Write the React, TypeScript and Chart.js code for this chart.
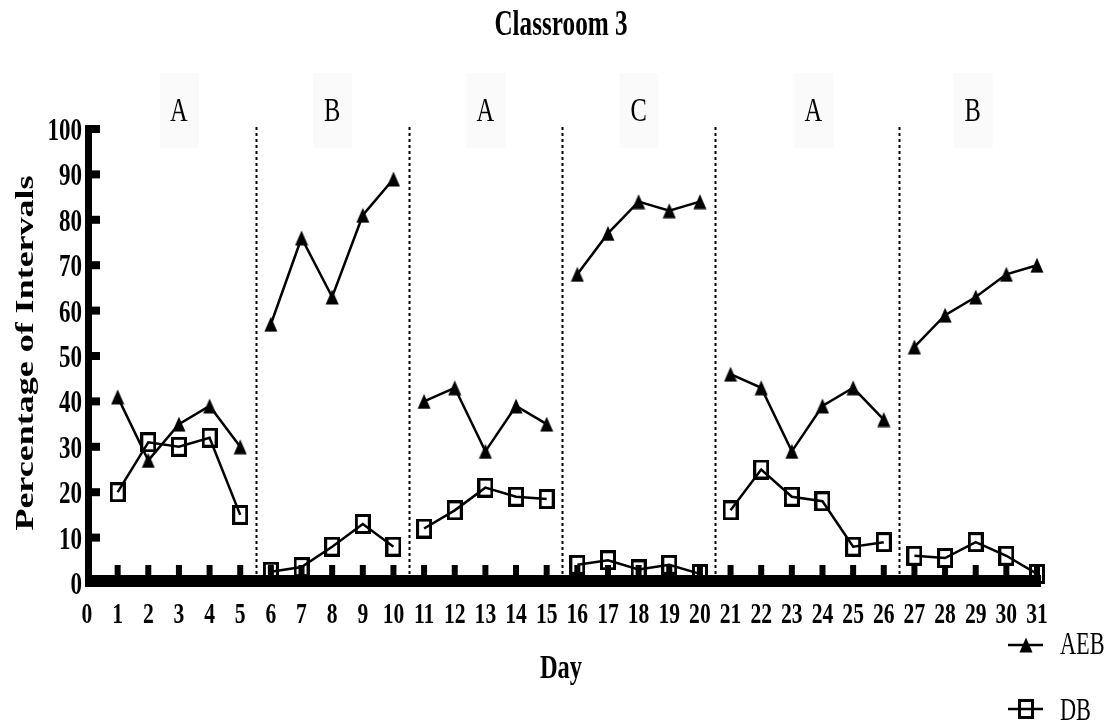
import React, { useEffect, useRef } from "react";
import { Chart, registerables } from "chart.js";

Chart.register(...registerables);

const days = [1, 2, 3, 4, 5, 6, 7, 8, 9, 10, 11, 12, 13, 14, 15, 16, 17, 18, 19, 20, 21, 22, 23, 24, 25, 26, 27, 28, 29, 30, 31];
const aebValues = [41, 27, 35, 39, 30, 57, 76, 63, 81, 89, 40, 43, 29, 39, 35, 68, 77, 84, 82, 84, 46, 43, 29, 39, 43, 36, 52, 59, 63, 68, 70];
const dbValues = [20, 31, 30, 32, 15, 2.5, 3.5, 8, 13, 8, 12, 16, 21, 19, 18.5, 4, 5, 3, 4, 2, 16, 25, 19, 18, 8, 9, 6, 5.5, 9, 6, 2];
const phaseBreaks = [5.5, 10.5, 15.5, 20.5, 26.5];
const phaseLabels = ["A", "B", "A", "C", "A", "B"];
const phaseLabelDays = [3, 8, 13, 18, 23.7, 28.9];
const yTickValues = [0, 10, 20, 30, 40, 50, 60, 70, 80, 90, 100];
const xTickValues = [0, 1, 2, 3, 4, 5, 6, 7, 8, 9, 10, 11, 12, 13, 14, 15, 16, 17, 18, 19, 20, 21, 22, 23, 24, 25, 26, 27, 28, 29, 30, 31];
const seriesNames = ["AEB", "DB"];
const chartTitle = "Classroom 3";
const xTitle = "Day";
const yTitle = "Percentage of Intervals";

const SERIF = "'Liberation Serif', 'Times New Roman', serif";
const SX = 0.72;

function buildSeries(values: number[]) {
  const out: { x: number; y: number | null }[] = [];
  for (let i = 0; i < days.length; i++) {
    if (i > 0) {
      const br = phaseBreaks.find((b) => b > days[i - 1] && b < days[i]);
      if (br !== undefined) out.push({ x: br, y: null });
    }
    out.push({ x: days[i], y: values[i] });
  }
  return out;
}

function makeTriangle() {
  const c = document.createElement("canvas");
  c.width = 14;
  c.height = 16;
  const g = c.getContext("2d")!;
  g.fillStyle = "#000";
  g.beginPath();
  g.moveTo(7, 0.5);
  g.lineTo(13.5, 15.5);
  g.lineTo(0.5, 15.5);
  g.closePath();
  g.fill();
  return c;
}

function makeSquare() {
  const c = document.createElement("canvas");
  c.width = 16;
  c.height = 20;
  const g = c.getContext("2d")!;
  g.strokeStyle = "#000";
  g.lineWidth = 3;
  g.strokeRect(1.5, 1.5, 13, 17);
  return c;
}

function txt(ctx: CanvasRenderingContext2D, s: string, x: number, y: number, font: string, align: CanvasTextAlign) {
  ctx.save();
  ctx.translate(x, y);
  ctx.scale(SX, 1);
  ctx.font = font;
  ctx.textAlign = align;
  ctx.textBaseline = "alphabetic";
  ctx.fillStyle = "#000";
  ctx.fillText(s, 0, 0);
  ctx.restore();
}

export default function App() {
  const ref = useRef<HTMLCanvasElement | null>(null);

  useEffect(() => {
    const tri = makeTriangle();
    const sq = makeSquare();

    const overlay = {
      id: "overlay",
      beforeDatasetsDraw(chart: any) {
        const ctx: CanvasRenderingContext2D = chart.ctx;
        const xs = chart.scales.x;
        const ys = chart.scales.y;
        const top = ys.getPixelForValue(100);
        const bottom = ys.getPixelForValue(0);
        ctx.save();
        // faint label boxes
        ctx.fillStyle = "#fafafa";
        phaseLabelDays.forEach((d) => {
          const px = xs.getPixelForValue(d);
          ctx.fillRect(px - 19, 73, 39, 75);
        });
        // dashed phase lines
        ctx.strokeStyle = "#000";
        ctx.lineWidth = 2;
        ctx.setLineDash([3, 3]);
        phaseBreaks.forEach((b) => {
          const px = Math.round(xs.getPixelForValue(b)) + 0.5;
          ctx.beginPath();
          ctx.moveTo(px, top - 2);
          ctx.lineTo(px, bottom);
          ctx.stroke();
        });
        ctx.setLineDash([]);
        // axes
        ctx.fillStyle = "#000";
        const x0 = xs.getPixelForValue(0);
        const x31 = xs.getPixelForValue(31);
        ctx.fillRect(x0 - 2, top - 4, 7, bottom + 4 - (top - 4));
        ctx.fillRect(x0 - 2, bottom - 8, x31 + 4 - (x0 - 2), 12);
        // y ticks (inward)
        yTickValues.forEach((v) => {
          if (v === 0) return;
          const py = ys.getPixelForValue(v);
          ctx.fillRect(x0 + 4, py - 4, 9, 8);
        });
        // x ticks (inward)
        xTickValues.forEach((v) => {
          if (v === 0) return;
          const px = xs.getPixelForValue(v);
          ctx.fillRect(px - 3, bottom - 18, 6, 11);
        });
        ctx.restore();
      },
      afterDraw(chart: any) {
        const ctx: CanvasRenderingContext2D = chart.ctx;
        const xs = chart.scales.x;
        const ys = chart.scales.y;
        const x0 = xs.getPixelForValue(0);
        ctx.save();
        txt(ctx, chartTitle, 561, 35, `bold 35px ${SERIF}`, "center");
        phaseLabels.forEach((l, i) => {
          txt(ctx, l, xs.getPixelForValue(phaseLabelDays[i]), 121, `34px ${SERIF}`, "center");
        });
        yTickValues.forEach((v) => {
          txt(ctx, String(v), x0 - 5, ys.getPixelForValue(v) + 11, `bold 32px ${SERIF}`, "right");
        });
        xTickValues.forEach((v) => {
          txt(ctx, String(v), xs.getPixelForValue(v), 623, `bold 30px ${SERIF}`, "center");
        });
        txt(ctx, xTitle, 561, 678, `bold 34px ${SERIF}`, "center");
        ctx.save();
        ctx.translate(33, 353);
        ctx.rotate(-Math.PI / 2);
        ctx.scale(1, SX);
        ctx.font = `bold 36px ${SERIF}`;
        ctx.textAlign = "center";
        ctx.textBaseline = "alphabetic";
        ctx.fillStyle = "#000";
        ctx.fillText(yTitle, 0, 0);
        ctx.restore();
        const legendRows = [
          { name: seriesNames[0], img: tri, y: 645, base: 654 },
          { name: seriesNames[1], img: sq, y: 709, base: 720 },
        ];
        legendRows.forEach((r) => {
          ctx.strokeStyle = "#000";
          ctx.lineWidth = 2.5;
          ctx.beginPath();
          ctx.moveTo(1008, r.y);
          ctx.lineTo(1043, r.y);
          ctx.stroke();
          ctx.drawImage(r.img, 1026 - r.img.width / 2, r.y - r.img.height / 2);
          txt(ctx, r.name, 1060, r.base, `31px ${SERIF}`, "left");
        });
        ctx.restore();
      },
    };

    const chart = new Chart(ref.current!, {
      type: "line",
      data: {
        datasets: [
          {
            label: seriesNames[0],
            data: buildSeries(aebValues) as any,
            borderColor: "#000",
            borderWidth: 2.5,
            pointStyle: tri as any,
            pointRadius: 7,
            tension: 0,
            clip: false as any,
            spanGaps: false,
          },
          {
            label: seriesNames[1],
            data: buildSeries(dbValues) as any,
            borderColor: "#000",
            borderWidth: 2.5,
            pointStyle: sq as any,
            pointRadius: 7,
            tension: 0,
            clip: false as any,
            spanGaps: false,
          },
        ],
      },
      options: {
        responsive: false,
        animation: false,
        layout: { padding: { left: 87, right: 82, top: 129, bottom: 143 } },
        scales: {
          x: { type: "linear", min: 0, max: 31, display: false },
          y: { min: 0, max: 100, display: false },
        },
        plugins: {
          legend: { display: false },
          title: { display: false },
          tooltip: { enabled: false },
        },
      },
      plugins: [overlay],
    });
    return () => chart.destroy();
  }, []);

  return (
    <div style={{ position: "fixed", left: 0, top: 0, width: 1119, height: 726, background: "#fff" }}>
      <canvas ref={ref} width={1119} height={726} style={{ display: "block" }} />
    </div>
  );
}
